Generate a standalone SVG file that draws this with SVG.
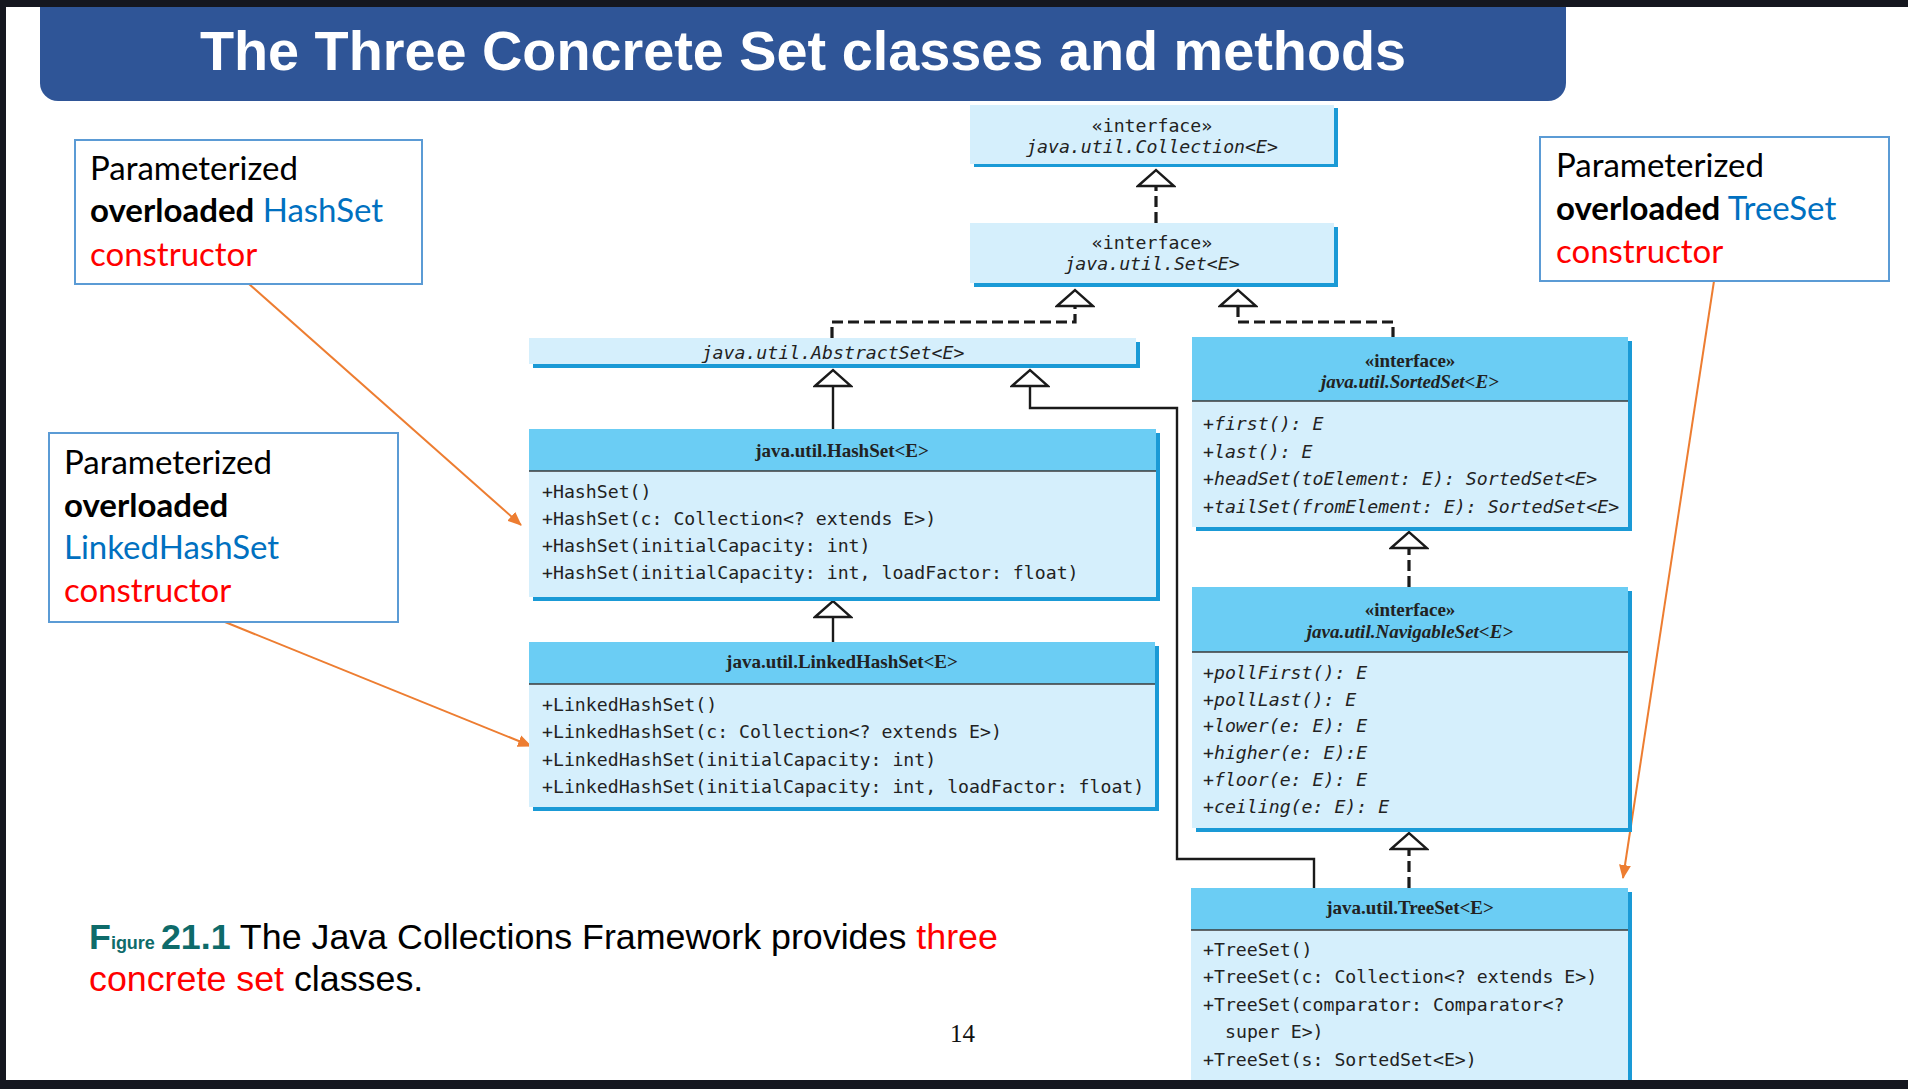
<svg xmlns="http://www.w3.org/2000/svg" width="1908" height="1089" viewBox="0 0 1908 1089">
  <style>
    .body { fill: #D5EFFC; }
    .head { fill: #6BCDF4; }
    .shadow { fill: #1A9AD6; }
    .sep { stroke: #3A3A3A; stroke-width: 1.6; }
    .mono { font-family: "DejaVu Sans Mono", "Liberation Mono", monospace; font-size: 18.2px; fill: #222; }
    .it { font-style: italic; }
    .hdr { font-family: "Liberation Serif", serif; font-weight: bold; font-size: 19px; fill: #222; }
    .note { font-family: Lato, "Open Sans", sans-serif; font-size: 33px; fill: #000; }
    .callout { fill: #fff; stroke: #5B9BD5; stroke-width: 2; }
    .blue { fill: #0070C0; }
    .red { fill: #FF0000; }
    .b { font-weight: bold; }
    .gen { fill: none; stroke: #1A1A1A; stroke-width: 2.4; marker-end: url(#gen); }
    .dash { stroke-width: 3.2; stroke-dasharray: 11 5; }
    .ptr { fill: none; stroke: #ED7D31; stroke-width: 2; marker-end: url(#ptr); }
    .cap { font-family: "Liberation Sans", Arial, sans-serif; font-size: 35.8px; fill: #000; }
    .teal { fill: #0E6B6A; font-weight: bold; }
  </style>
  <defs>
    <!-- hollow generalization triangle, base at the line end -->
    <marker id="gen" markerUnits="userSpaceOnUse" viewBox="-2 -20 21 40" refX="0" refY="0" markerWidth="21" markerHeight="40" orient="auto">
      <path d="M0,-18 L16,0 L0,18 Z" fill="#fff" stroke="#1A1A1A" stroke-width="2.4" stroke-linejoin="miter"/>
    </marker>
    <marker id="ptr" markerUnits="userSpaceOnUse" viewBox="0 -7 14 14" refX="13" refY="0" markerWidth="14" markerHeight="14" orient="auto">
      <path d="M0,-6 L14,0 L0,6 Z" fill="#ED7D31"/>
    </marker>
  </defs>

  <rect width="1908" height="1089" fill="#fff"/>

  <!-- title bar -->
  <g id="title">
    <rect x="40" y="-20" width="1526" height="121" rx="18" fill="#2F5597"/>
    <text x="803" y="70" text-anchor="middle" font-family="Liberation Sans, Arial, sans-serif" font-weight="bold" font-size="55.8" fill="#fff">The Three Concrete Set classes and methods</text>
  </g>

  <!-- connectors -->
  <g id="connectors">
    <path class="gen dash" d="M1156,223 V186"/>
    <path class="gen dash" d="M832,338 V322 H1075 V306"/>
    <path class="gen dash" d="M1393,338 V322 H1238 V306"/>
    <path class="gen" d="M833,429 V386"/>
    <path class="gen" d="M1314,888 V859 H1177 V408 H1030 V386"/>
    <path class="gen" d="M833,642 V617"/>
    <path class="gen dash" d="M1409,587 V548"/>
    <path class="gen dash" d="M1409,888 V849"/>
    <path class="ptr" d="M249,284 L521,525"/>
    <path class="ptr" d="M225,622 L531,746"/>
    <path class="ptr" d="M1714,281 L1623,878"/>
  </g>

  <!-- interface Collection -->
  <g id="collection">
    <rect class="shadow" x="974" y="108" width="364" height="59"/>
    <rect class="body" x="970" y="105" width="364" height="59"/>
    <text class="mono" x="1152" y="132" text-anchor="middle">«interface»</text>
    <text class="mono it" x="1152" y="153" text-anchor="middle">java.util.Collection&lt;E&gt;</text>
  </g>

  <!-- interface Set -->
  <g id="set">
    <rect class="shadow" x="974" y="227" width="364" height="60"/>
    <rect class="body" x="970" y="223" width="364" height="60"/>
    <text class="mono" x="1152" y="249" text-anchor="middle">«interface»</text>
    <text class="mono it" x="1152" y="270" text-anchor="middle">java.util.Set&lt;E&gt;</text>
  </g>

  <!-- abstract class AbstractSet -->
  <g id="abstractset">
    <rect class="shadow" x="533" y="342" width="607" height="26"/>
    <rect class="body" x="529" y="338" width="607" height="26"/>
    <text class="mono it" x="833" y="359" text-anchor="middle">java.util.AbstractSet&lt;E&gt;</text>
  </g>

  <!-- class HashSet -->
  <g id="hashset">
    <rect class="shadow" x="533" y="433" width="627" height="168"/>
    <rect class="body" x="529" y="429" width="627" height="168"/>
    <rect class="head" x="529" y="429" width="627" height="42"/>
    <line class="sep" x1="529" y1="471" x2="1156" y2="471"/>
    <text class="hdr" x="842" y="457" text-anchor="middle">java.util.HashSet&lt;E&gt;</text>
    <text class="mono" x="542" y="498">+HashSet()</text>
    <text class="mono" x="542" y="525">+HashSet(c: Collection&lt;? extends E&gt;)</text>
    <text class="mono" x="542" y="552">+HashSet(initialCapacity: int)</text>
    <text class="mono" x="542" y="579">+HashSet(initialCapacity: int, loadFactor: float)</text>
  </g>

  <!-- class LinkedHashSet -->
  <g id="linkedhashset">
    <rect class="shadow" x="533" y="646" width="626" height="165"/>
    <rect class="body" x="529" y="642" width="626" height="165"/>
    <rect class="head" x="529" y="642" width="626" height="42"/>
    <line class="sep" x1="529" y1="684" x2="1155" y2="684"/>
    <text class="hdr" x="842" y="668" text-anchor="middle">java.util.LinkedHashSet&lt;E&gt;</text>
    <text class="mono" x="542" y="711">+LinkedHashSet()</text>
    <text class="mono" x="542" y="738">+LinkedHashSet(c: Collection&lt;? extends E&gt;)</text>
    <text class="mono" x="542" y="766">+LinkedHashSet(initialCapacity: int)</text>
    <text class="mono" x="542" y="793">+LinkedHashSet(initialCapacity: int, loadFactor: float)</text>
  </g>

  <!-- interface SortedSet -->
  <g id="sortedset">
    <rect class="shadow" x="1196" y="341" width="436" height="190"/>
    <rect class="body" x="1192" y="337" width="436" height="190"/>
    <rect class="head" x="1192" y="337" width="436" height="64"/>
    <line class="sep" x1="1192" y1="401" x2="1628" y2="401"/>
    <text class="hdr" x="1410" y="367" text-anchor="middle" font-size="18">«interface»</text>
    <text class="hdr it" x="1410" y="388" text-anchor="middle">java.util.SortedSet&lt;E&gt;</text>
    <text class="mono it" x="1203" y="430">+first(): E</text>
    <text class="mono it" x="1203" y="458">+last(): E</text>
    <text class="mono it" x="1203" y="485">+headSet(toElement: E): SortedSet&lt;E&gt;</text>
    <text class="mono it" x="1203" y="513">+tailSet(fromElement: E): SortedSet&lt;E&gt;</text>
  </g>

  <!-- interface NavigableSet -->
  <g id="navigableset">
    <rect class="shadow" x="1196" y="591" width="436" height="241"/>
    <rect class="body" x="1192" y="587" width="436" height="241"/>
    <rect class="head" x="1192" y="587" width="436" height="65"/>
    <line class="sep" x1="1192" y1="652" x2="1628" y2="652"/>
    <text class="hdr" x="1410" y="616" text-anchor="middle" font-size="18">«interface»</text>
    <text class="hdr it" x="1410" y="638" text-anchor="middle">java.util.NavigableSet&lt;E&gt;</text>
    <text class="mono it" x="1203" y="679">+pollFirst(): E</text>
    <text class="mono it" x="1203" y="706">+pollLast(): E</text>
    <text class="mono it" x="1203" y="732">+lower(e: E): E</text>
    <text class="mono it" x="1203" y="759">+higher(e: E):E</text>
    <text class="mono it" x="1203" y="786">+floor(e: E): E</text>
    <text class="mono it" x="1203" y="813">+ceiling(e: E): E</text>
  </g>

  <!-- class TreeSet -->
  <g id="treeset">
    <rect class="shadow" x="1195" y="892" width="437" height="200"/>
    <rect class="body" x="1191" y="888" width="437" height="200"/>
    <rect class="head" x="1191" y="888" width="437" height="42"/>
    <line class="sep" x1="1191" y1="930" x2="1628" y2="930"/>
    <text class="hdr" x="1410" y="914" text-anchor="middle">java.util.TreeSet&lt;E&gt;</text>
    <text class="mono" x="1203" y="956">+TreeSet()</text>
    <text class="mono" x="1203" y="983">+TreeSet(c: Collection&lt;? extends E&gt;)</text>
    <text class="mono" x="1203" y="1011">+TreeSet(comparator: Comparator&lt;?</text>
    <text class="mono" x="1225" y="1038">super E&gt;)</text>
    <text class="mono" x="1203" y="1066">+TreeSet(s: SortedSet&lt;E&gt;)</text>
  </g>

  <!-- notes -->
  <g id="note-hashset">
    <rect class="callout" x="75" y="140" width="347" height="144"/>
    <text class="note" x="90" y="180">Parameterized</text>
    <text class="note" x="90" y="222"><tspan class="b">overloaded</tspan> <tspan class="blue">HashSet</tspan></text>
    <text class="note red" x="90" y="266">constructor</text>
  </g>

  <g id="note-linkedhashset">
    <rect class="callout" x="49" y="433" width="349" height="189"/>
    <text class="note" x="64" y="474">Parameterized</text>
    <text class="note b" x="64" y="517">overloaded</text>
    <text class="note blue" x="64" y="559">LinkedHashSet</text>
    <text class="note red" x="64" y="602">constructor</text>
  </g>

  <g id="note-treeset">
    <rect class="callout" x="1540" y="137" width="349" height="144"/>
    <text class="note" x="1556" y="177">Parameterized</text>
    <text class="note" x="1556" y="220"><tspan class="b">overloaded</tspan> <tspan class="blue">TreeSet</tspan></text>
    <text class="note red" x="1556" y="263">constructor</text>
  </g>

  <!-- figure caption and page number -->
  <g id="caption">
    <text class="cap" x="89" y="949"><tspan class="teal">F</tspan><tspan class="teal" font-size="18">igure</tspan><tspan class="teal" dx="6">21.1</tspan> The Java Collections Framework provides <tspan class="red">three</tspan></text>
    <text class="cap" x="89" y="991"><tspan class="red">concrete set</tspan> classes.</text>
    <text x="950" y="1042" font-family="Liberation Serif, serif" font-size="25" fill="#111">14</text>
  </g>

  <!-- dark window frame -->
  <rect x="0" y="0" width="1908" height="7" fill="#15171F"/>
  <rect x="0" y="0" width="6" height="1089" fill="#15171F"/>
  <rect x="0" y="1080" width="1908" height="9" fill="#15171F"/>
</svg>
